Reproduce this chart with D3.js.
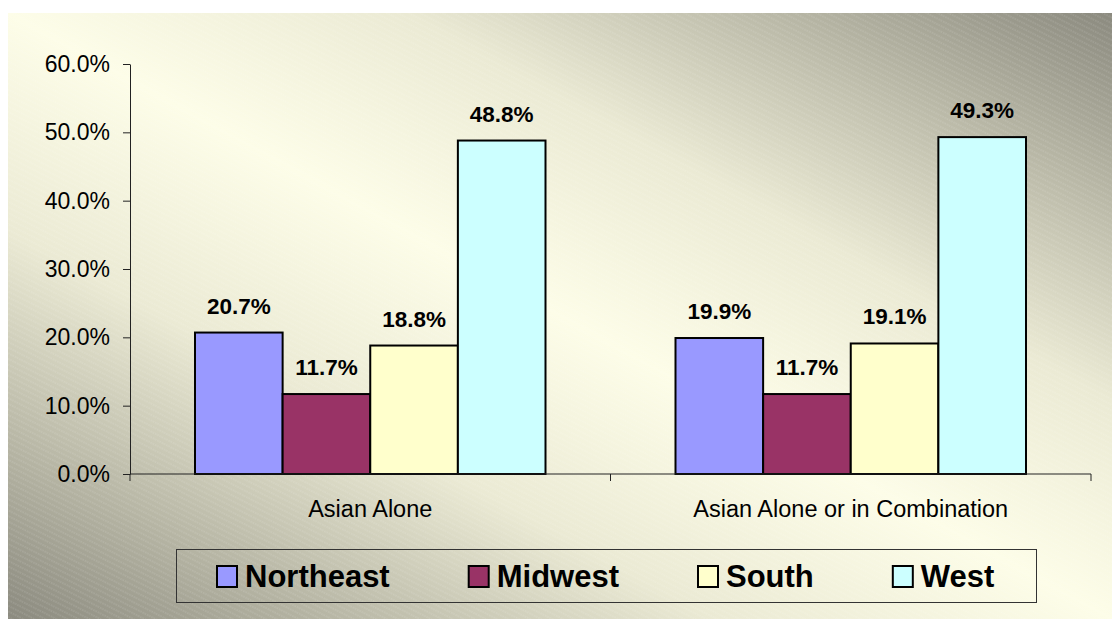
<!DOCTYPE html>
<html>
<head>
<meta charset="utf-8">
<script src="https://cdn.jsdelivr.net/npm/d3@7"></script>
<style>
  html, body { margin: 0; padding: 0; background: #ffffff; }
  svg { display: block; font-family: "Liberation Sans", Arial, sans-serif; }
</style>
</head>
<body>
<svg id="chart" width="1112" height="619"></svg>
<script>
// ---- data ----
const categories = ["Asian Alone", "Asian Alone or in Combination"];
const seriesNames = ["Northeast", "Midwest", "South", "West"];
const northeast = [0.207, 0.199];
const midwest = [0.117, 0.117];
const south = [0.188, 0.191];
const west = [0.488, 0.493];
const yTicks = [0, 0.1, 0.2, 0.3, 0.4, 0.5, 0.6];
const seriesColors = ["#9999ff", "#993366", "#ffffcc", "#ccffff"];

const seriesValues = [northeast, midwest, south, west];

const svg = d3.select("#chart");
const defs = svg.append("defs");

// background gradient (dark corners top-right / bottom-left, light diagonal)
const grad = defs.append("linearGradient")
  .attr("id", "bg").attr("x1", 1).attr("y1", 0).attr("x2", 0).attr("y2", 1);
[[0, "#8b8a7f"], [0.14, "#b5b4a3"], [0.32, "#ebead4"], [0.5, "#fdfde8"],
 [0.68, "#ebead4"], [0.86, "#b5b4a3"], [1, "#8b8a7f"]]
  .forEach(([o, c]) => grad.append("stop").attr("offset", o).attr("stop-color", c));

const pat = defs.append("pattern")
  .attr("id", "hatch").attr("patternUnits", "userSpaceOnUse")
  .attr("width", 10).attr("height", 5)
  .attr("patternTransform", "rotate(27)");
pat.append("line").attr("x1", 0).attr("y1", 1).attr("x2", 10).attr("y2", 1)
  .attr("stroke", "#ffffff").attr("stroke-width", 1).attr("stroke-opacity", 0.2)
  .attr("stroke-dasharray", "1.5,1");

svg.append("rect").attr("x", 8).attr("y", 13).attr("width", 1104).attr("height", 606)
  .attr("fill", "url(#bg)");
svg.append("rect").attr("x", 8).attr("y", 13).attr("width", 1104).attr("height", 606)
  .attr("fill", "url(#hatch)");

// ---- scales ----
const y = d3.scaleLinear().domain([0, 0.6]).range([474, 64]);
const x0 = d3.scaleBand().domain(categories).range([130, 1091]).padding(0);
const x1 = d3.scaleBand().domain(seriesNames)
  .range([65, x0.bandwidth() - 65]).padding(0);

// ---- y axis ----
const yAxis = d3.axisLeft(y).tickValues(yTicks).tickFormat(d3.format(".1%"))
  .tickSize(7).tickPadding(13).tickSizeOuter(0);
const gy = svg.append("g").attr("transform", "translate(130,0)").call(yAxis);
gy.select(".domain").attr("stroke", "#222").attr("stroke-width", 1);
gy.selectAll(".tick line").attr("stroke", "#222");
gy.selectAll(".tick text").attr("font-size", 23).attr("fill", "#000")
  .attr("font-family", "'Liberation Sans', Arial, sans-serif");

// ---- bars ----
const groups = svg.append("g").selectAll("g").data(categories).join("g")
  .attr("transform", d => `translate(${x0(d)},0)`);

groups.each(function(cat, ci) {
  const g = d3.select(this);
  seriesNames.forEach((s, si) => {
    const v = seriesValues[si][ci];
    g.append("rect")
      .attr("x", x1(s)).attr("y", y(v))
      .attr("width", x1.bandwidth()).attr("height", y(0) - y(v))
      .attr("fill", seriesColors[si]).attr("stroke", "#000").attr("stroke-width", 2);
    g.append("text")
      .attr("x", x1(s) + x1.bandwidth() / 2).attr("y", y(v) - 19)
      .attr("text-anchor", "middle").attr("font-weight", "bold")
      .attr("font-size", 22.5).attr("fill", "#000")
      .text(d3.format(".1%")(v));
  });
});

// ---- x axis ----
svg.append("line").attr("x1", 130).attr("x2", 1091).attr("y1", y(0)).attr("y2", y(0))
  .attr("stroke", "#222");
const bounds = categories.map(c => x0(c)).concat([x0.range()[1]]);
svg.append("g").selectAll("line").data(bounds).join("line")
  .attr("x1", d => d).attr("x2", d => d).attr("y1", y(0)).attr("y2", y(0) + 7)
  .attr("stroke", "#222");
svg.append("g").selectAll("text").data(categories).join("text")
  .attr("x", d => x0(d) + x0.bandwidth() / 2).attr("y", 517)
  .attr("text-anchor", "middle").attr("font-size", 23.5).attr("fill", "#000")
  .text(d => d);

// ---- legend ----
svg.append("rect").attr("x", 176.5).attr("y", 549.5).attr("width", 860).attr("height", 53)
  .attr("fill", "none").attr("stroke", "#333").attr("stroke-width", 1);
let lx = 216;
seriesNames.forEach((s, i) => {
  svg.append("rect").attr("x", lx + 1).attr("y", 566).attr("width", 20).attr("height", 21)
    .attr("fill", seriesColors[i]).attr("stroke", "#000").attr("stroke-width", 2);
  const t = svg.append("text").attr("x", lx + 29).attr("y", 587)
    .attr("font-size", 31).attr("font-weight", "bold").attr("fill", "#000").text(s);
  lx = lx + 29 + t.node().getComputedTextLength() + 78;
});
</script>
</body>
</html>
